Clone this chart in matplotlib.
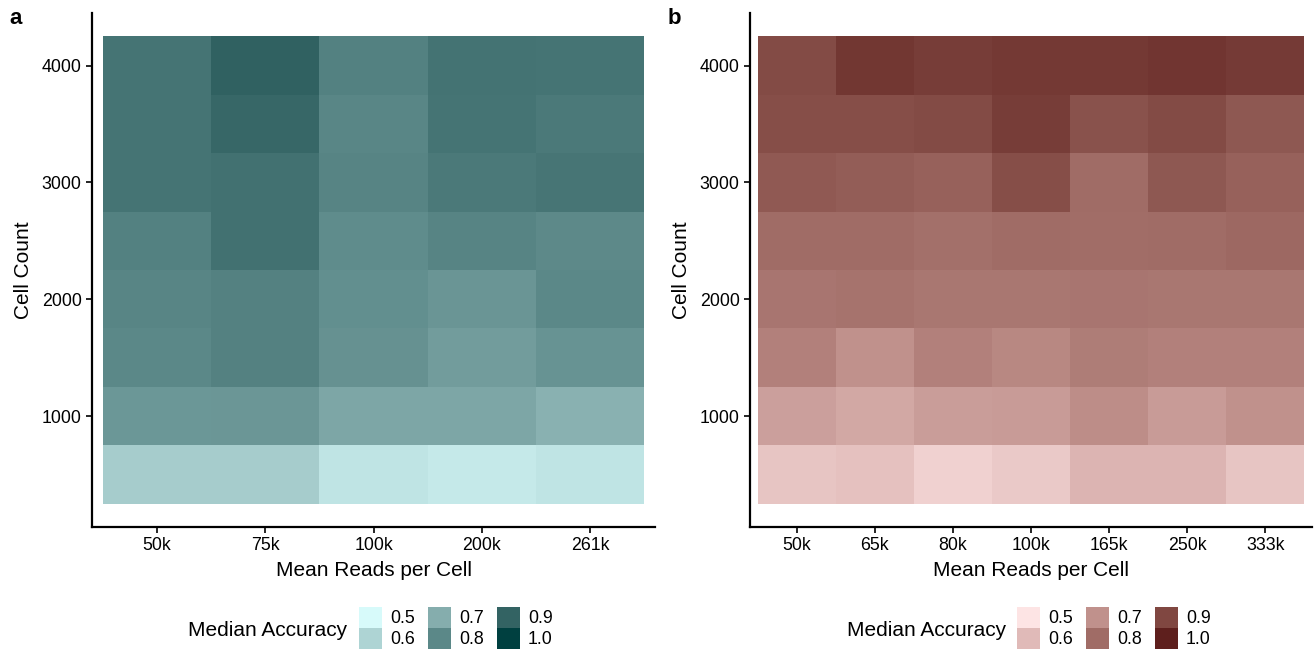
import numpy as np
import matplotlib
matplotlib.use("Agg")
import matplotlib.pyplot as plt
from matplotlib.colors import LinearSegmentedColormap
from matplotlib.patches import Rectangle

plt.rcParams['font.family'] = ['Liberation Sans', 'DejaVu Sans']

# ---------------- data ----------------
cell_counts = [500, 1000, 1500, 2000, 2500, 3000, 3500, 4000]

reads_a = ["50k", "75k", "100k", "200k", "261k"]
# rows: cell_counts (500 -> 4000), columns: reads_a
acc_a = [
    [0.620, 0.620, 0.560, 0.545, 0.560],   # 500
    [0.760, 0.762, 0.720, 0.720, 0.690],   # 1000
    [0.800, 0.818, 0.775, 0.745, 0.770],   # 1500
    [0.808, 0.818, 0.783, 0.765, 0.800],   # 2000
    [0.820, 0.862, 0.790, 0.810, 0.795],   # 2500
    [0.855, 0.862, 0.810, 0.840, 0.850],   # 3000
    [0.855, 0.890, 0.805, 0.855, 0.838],   # 3500
    [0.855, 0.905, 0.820, 0.857, 0.855],   # 4000
]

reads_b = ["50k", "65k", "80k", "100k", "165k", "250k", "333k"]
acc_b = [
    [0.575, 0.585, 0.545, 0.565, 0.615, 0.615, 0.575],   # 500
    [0.665, 0.645, 0.670, 0.675, 0.710, 0.675, 0.700],   # 1000
    [0.745, 0.700, 0.745, 0.725, 0.755, 0.745, 0.745],   # 1500
    [0.775, 0.780, 0.770, 0.770, 0.775, 0.770, 0.770],   # 2000
    [0.800, 0.800, 0.790, 0.800, 0.795, 0.800, 0.810],   # 2500
    [0.850, 0.840, 0.830, 0.880, 0.800, 0.855, 0.830],   # 3000
    [0.880, 0.880, 0.890, 0.925, 0.870, 0.890, 0.855],   # 3500
    [0.890, 0.940, 0.925, 0.935, 0.935, 0.945, 0.930],   # 4000
]

legend_values = [0.5, 0.6, 0.7, 0.8, 0.9, 1.0]
legend_labels = ["0.5", "0.6", "0.7", "0.8", "0.9", "1.0"]

teal_stops = ["#d7fafa", "#aed4d4", "#85adad", "#5b8888", "#336363", "#004040"]
red_stops = ["#fde4e4", "#e0bab8", "#c0918c", "#a06c66", "#804741", "#5e1f1d"]

W, H = 1314, 652
fig = plt.figure(figsize=(W / 100, H / 100), dpi=100)

TICK_FS = 12.8
TITLE_FS = 15


def px_axes(x0, x1, y_top, y_bot):
    return fig.add_axes([x0 / W, 1 - y_bot / H, (x1 - x0) / W, (y_bot - y_top) / H])


def draw_panel(ax, reads, acc, cmap):
    acc = np.array(acc)
    n = len(reads)
    cc = np.array(cell_counts, dtype=float)
    x_edges = np.arange(n + 1) - 0.5
    y_edges = np.concatenate([cc - 250, [cc[-1] + 250]])
    ax.pcolormesh(x_edges, y_edges, acc, cmap=cmap, vmin=0.5, vmax=1.0,
                  shading="flat", edgecolors="none", antialiased=False)
    ax.set_xlim(-0.6, n - 0.4)
    ax.set_ylim(50, 4450)
    ax.set_xticks(np.arange(n))
    ax.set_xticklabels(reads)
    ax.set_yticks([1000, 2000, 3000, 4000])
    for s in ["top", "right"]:
        ax.spines[s].set_visible(False)
    for s in ["left", "bottom"]:
        ax.spines[s].set_linewidth(1.6)
    ax.tick_params(axis="both", length=4.5, width=1.2, labelsize=TICK_FS,
                   colors="black", pad=3)
    ax.set_xlabel("Mean Reads per Cell", fontsize=TITLE_FS, labelpad=5)
    ax.set_ylabel("Cell Count", fontsize=TITLE_FS, labelpad=6)


cmap_a = LinearSegmentedColormap.from_list("teal", list(zip([0, .2, .4, .6, .8, 1], teal_stops)))
cmap_b = LinearSegmentedColormap.from_list("red", list(zip([0, .2, .4, .6, .8, 1], red_stops)))

ax_a = px_axes(92, 655, 13, 527)
draw_panel(ax_a, reads_a, acc_a, cmap_a)
ax_b = px_axes(750, 1312, 13, 527)
draw_panel(ax_b, reads_b, acc_b, cmap_b)

fig.text(9 / W, 1 - 19 / H, "a", fontsize=16, fontweight="bold", va="center", ha="left")
fig.text(668 / W, 1 - 19 / H, "b", fontsize=16, fontweight="bold", va="center", ha="left")


def draw_legend(x_title_end, key_x0, cmap):
    key_w, key_h = 23, 21
    col_step = 69
    y_top = 607
    fig.text(x_title_end / W, 1 - 631 / H, "Median Accuracy", fontsize=TITLE_FS,
             ha="right", va="center")
    for i, (v, lab) in enumerate(zip(legend_values, legend_labels)):
        col, row = divmod(i, 2)
        x = key_x0 + col * col_step
        y = y_top + row * key_h
        fig.patches.append(Rectangle((x / W, 1 - (y + key_h) / H), key_w / W, key_h / H,
                                     transform=fig.transFigure,
                                     facecolor=cmap((v - 0.5) / 0.5), edgecolor="none"))
        fig.text((x + key_w + 8) / W, 1 - (y + key_h / 2 + 1) / H, lab,
                 fontsize=TICK_FS, ha="left", va="center")


draw_legend(347, 359, cmap_a)
draw_legend(1006, 1017, cmap_b)

fig.savefig("out.png", dpi=100)
